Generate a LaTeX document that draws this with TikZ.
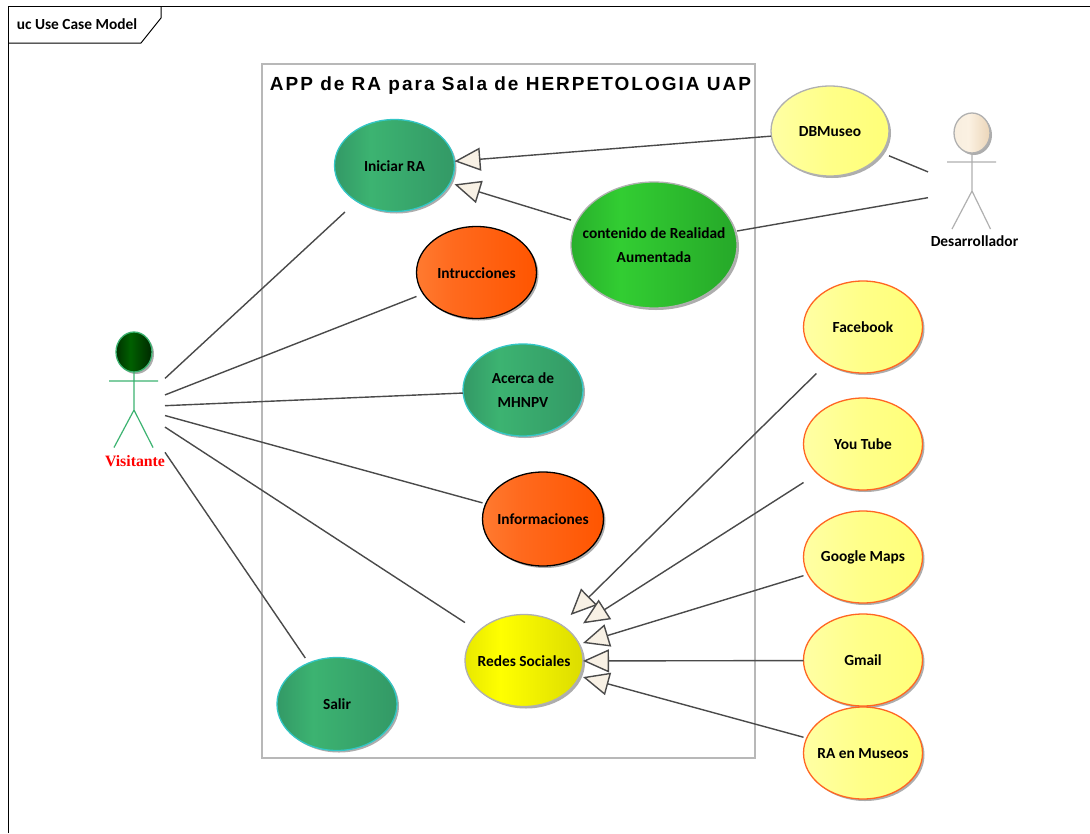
\documentclass[tikz,border=0pt]{standalone}
\usepackage{fontspec}
\setmainfont{Carlito}
\newfontfamily\titlefont[LetterSpace=10.6]{Liberation Sans}
\newfontfamily\actorfont{Liberation Serif}
\usetikzlibrary{arrows.meta}
\definecolor{lineC}{HTML}{4A4A4A}
\definecolor{boundC}{HTML}{B8B8B8}
\definecolor{shadowC}{HTML}{ADADAD}
\definecolor{creamC}{HTML}{F8F1E5}
\definecolor{tealA}{HTML}{339966}\definecolor{tealB}{HTML}{3CB371}\definecolor{tealC}{HTML}{339966}
\definecolor{orgA}{HTML}{FF7A30}\definecolor{orgB}{HTML}{FF6A1E}\definecolor{orgC}{HTML}{FF5500}
\definecolor{grnA}{HTML}{28AF2C}\definecolor{grnB}{HTML}{32CD32}\definecolor{grnC}{HTML}{26A829}
\definecolor{ylwA}{HTML}{FFFFA4}\definecolor{ylwB}{HTML}{FFFF88}\definecolor{ylwC}{HTML}{FFFF78}
\definecolor{redA}{HTML}{E8E800}\definecolor{redB}{HTML}{FFFF00}\definecolor{redC}{HTML}{DCDC00}
\definecolor{vheadA}{HTML}{003300}\definecolor{vheadB}{HTML}{006000}\definecolor{vheadC}{HTML}{002800}
\definecolor{dheadA}{HTML}{F8EEDF}\definecolor{dheadB}{HTML}{FBF1E2}\definecolor{dheadC}{HTML}{EBD5B8}
\definecolor{seaC}{HTML}{3CB371}
\definecolor{turqC}{HTML}{33C6C6}
\definecolor{oedgeC}{HTML}{FF6622}
\definecolor{gedgeC}{HTML}{B0B0B0}
\pgfdeclarehorizontalshading{tealS}{100bp}{color(0bp)=(tealA);color(25bp)=(tealA);color(40bp)=(tealB);color(75bp)=(tealC);color(100bp)=(tealC)}
\pgfdeclarehorizontalshading{orgS}{100bp}{color(0bp)=(orgA);color(25bp)=(orgA);color(40bp)=(orgB);color(75bp)=(orgC);color(100bp)=(orgC)}
\pgfdeclarehorizontalshading{grnS}{100bp}{color(0bp)=(grnA);color(25bp)=(grnA);color(40bp)=(grnB);color(75bp)=(grnC);color(100bp)=(grnC)}
\pgfdeclarehorizontalshading{ylwS}{100bp}{color(0bp)=(ylwA);color(25bp)=(ylwA);color(50bp)=(ylwB);color(75bp)=(ylwC);color(100bp)=(ylwC)}
\pgfdeclarehorizontalshading{redS}{100bp}{color(0bp)=(redA);color(25bp)=(redA);color(40bp)=(redB);color(75bp)=(redC);color(100bp)=(redC)}
\pgfdeclarehorizontalshading{vheadS}{100bp}{color(0bp)=(vheadA);color(25bp)=(vheadA);color(45bp)=(vheadB);color(75bp)=(vheadC);color(100bp)=(vheadC)}
\pgfdeclarehorizontalshading{dheadS}{100bp}{color(0bp)=(dheadA);color(25bp)=(dheadA);color(45bp)=(dheadB);color(75bp)=(dheadC);color(100bp)=(dheadC)}
\tikzset{
  ucbox/.style={shape=rectangle,inner sep=0pt,outer sep=0pt,align=center,font=\fontsize{15.4}{24}\bfseries\selectfont,text=black},
  actorbox/.style={shape=rectangle,inner sep=0pt,outer sep=0pt},
  assoc/.style={draw=lineC,line width=1.4pt},
  general/.style={draw=lineC,line width=1.4pt,-{Triangle[open,length=26pt,width=23pt,fill=creamC]}},
  stick/.style={line width=1.2pt},
}
% name, x, y, rx, ry, shading, edge colour, text
\newcommand{\ucase}[8]{%
  \fill[shadowC] (#2+2,#3+2) ellipse [x radius=#4pt,y radius=#5pt];
  \shade[shading=#6,draw=#7,line width=1.3pt] (#2,#3) ellipse [x radius=#4pt,y radius=#5pt];
  \node[ucbox,minimum width=2*#4pt,minimum height=2*#5pt] (#1) at (#2,#3+0.5) {#8};
}
\begin{document}
\begin{tikzpicture}[x=1pt,y=-1pt]
\useasboundingbox (0,0) rectangle (1090,833);
\fill[white] (0,0) rectangle (1090,833);
% frame
\draw[black,line width=1pt] (8,833) -- (8,6) -- (1090,6);
\draw[black,line width=1pt] (8,43) -- (141,43) -- (161,18) -- (161,6);
\node[font=\fontsize{15.4}{18}\bfseries\selectfont,anchor=center] (frametitle) at (77,24.5) {uc Use Case Model};
% boundary
\draw[boundC,line width=1.2pt] (262,64) rectangle (755,758);
\node[font=\titlefont\fontsize{19}{22}\bfseries\selectfont,anchor=center] (systitle) at (510.5,85.5) {APP de RA para Sala de HERPETOLOGIA UAP};
% use cases
\ucase{iniciar}{394.5}{165.5}{60}{46}{tealS}{turqC}{Iniciar RA}
\ucase{intru}{476.5}{272.5}{60}{46}{orgS}{black}{Intrucciones}
\ucase{acerca}{523}{390}{60}{46}{tealS}{turqC}{Acerca de\\MHNPV}
\ucase{info}{543}{519}{60.5}{47}{orgS}{black}{Informaciones}
\ucase{redes}{524}{660.5}{59}{46}{redS}{gedgeC}{Redes Sociales}
\ucase{salir}{337}{704}{60}{46.5}{tealS}{turqC}{Salir}
\ucase{db}{830}{131}{59}{45}{ylwS}{gedgeC}{DBMuseo}
\ucase{cont}{654}{245}{83}{63}{grnS}{gedgeC}{contenido de Realidad\\Aumentada}
\ucase{fb}{863}{327}{59.5}{46}{ylwS}{oedgeC}{Facebook}
\ucase{yt}{863}{444}{59.5}{46}{ylwS}{oedgeC}{You Tube}
\ucase{gm}{863}{557}{59.5}{46}{ylwS}{oedgeC}{Google Maps}
\ucase{gmail}{863}{660}{59.5}{46}{ylwS}{oedgeC}{Gmail}
\ucase{muse}{863}{753}{59.5}{46}{ylwS}{oedgeC}{RA en Museos}
% actor Visitante
\node[actorbox,minimum width=62pt,minimum height=150pt] (visit) at (134,407) {};
\fill[shadowC] (136,354) ellipse [x radius=18pt,y radius=20pt];
\shade[shading=vheadS,draw=seaC,line width=1.3pt] (134,352) ellipse [x radius=18pt,y radius=20pt];
\draw[seaC,stick] (134,372) -- (134,410) (109,381) -- (158,381) (114,447.5) -- (134,410) -- (153,447.5);
\node[font=\actorfont\fontsize{15.8}{18}\bfseries\selectfont,text={rgb,1:red,1;green,0;blue,0}] (visitlabel) at (135,461) {Visitante};
% actor Desarrollador
\node[actorbox,minimum width=88pt,minimum height=154pt] (dev) at (972,190) {};
\fill[shadowC] (974,135) ellipse [x radius=18pt,y radius=20pt];
\shade[shading=dheadS,draw=gedgeC,line width=1.3pt] (972,133) ellipse [x radius=18pt,y radius=20pt];
\draw[gedgeC,stick] (972,153) -- (972,191) (947,162) -- (996,162) (952,229) -- (972,191) -- (990.5,229);
\node[ucbox] (devlabel) at (974.5,241) {Desarrollador};
% associations
\draw[assoc] (visit) -- (iniciar);
\draw[assoc] (visit) -- (intru);
\draw[assoc] (visit) -- (acerca);
\draw[assoc] (visit) -- (info);
\draw[assoc] (visit) -- (redes);
\draw[assoc] (visit) -- (salir);
\draw[assoc] (db) -- (dev);
\draw[assoc] (cont) -- (dev);
% generalizations
\draw[general] (db) -- (iniciar);
\draw[general] (cont) -- (iniciar);
\draw[general] (fb) -- (redes);
\draw[general] (yt) -- (redes);
\draw[general] (gm) -- (redes);
\draw[general] (gmail) -- (redes);
\draw[general] (muse) -- (redes);
\end{tikzpicture}
\end{document}
